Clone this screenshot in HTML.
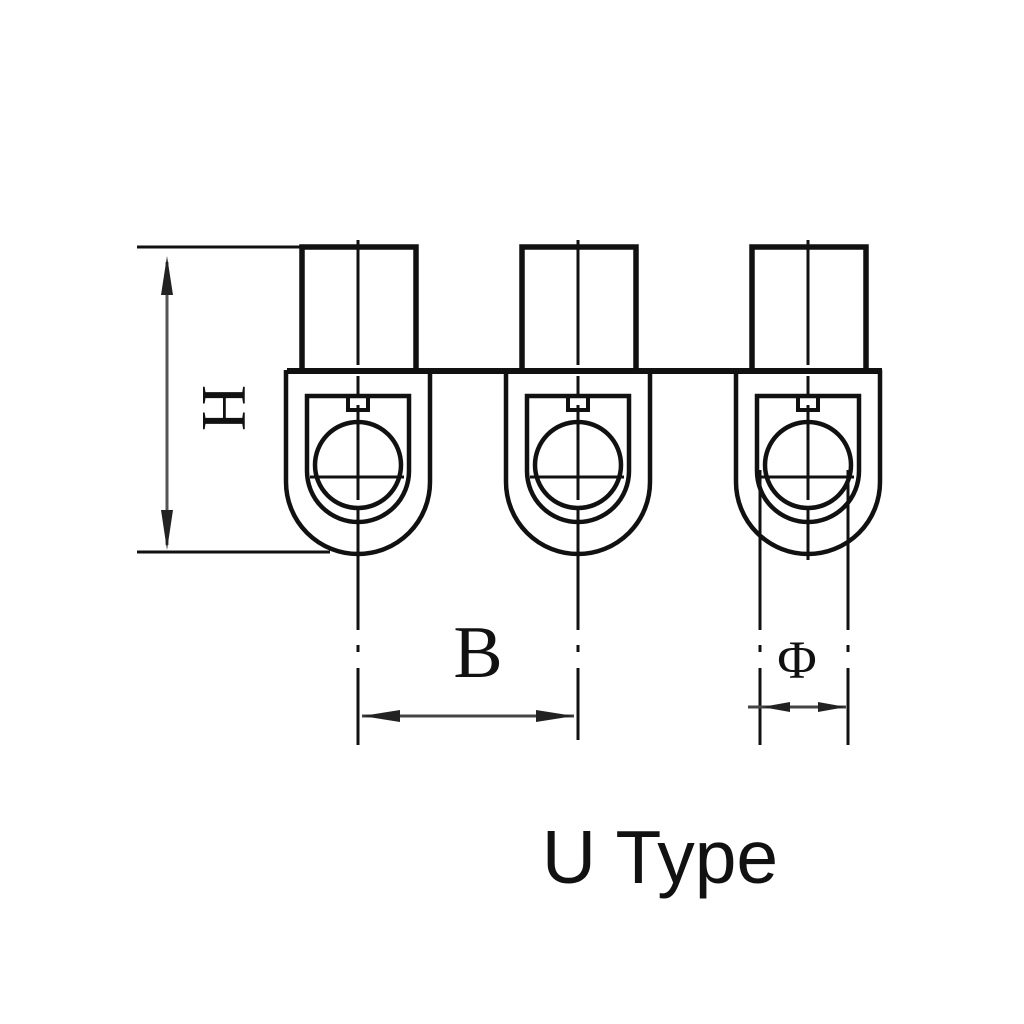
<!DOCTYPE html>
<html><head><meta charset="utf-8"><style>
html,body{margin:0;padding:0;background:#fff;}
svg{display:block;}
</style></head><body>
<svg width="1024" height="1024" viewBox="0 0 1024 1024" xmlns="http://www.w3.org/2000/svg">
<rect width="1024" height="1024" fill="#fff"/>
<defs>
<g id="unit" fill="none" stroke="#111">
  <path d="M-56 370 V247 H58 V370" stroke-width="5.5"/>
  <path d="M-72 370 V482 A72 72 0 0 0 72 482 V370" stroke-width="4.5"/>
  <path d="M-51 396 V471 A51 51 0 0 0 51 471 V396 Z" stroke-width="4.5"/>
  <path d="M-10 396 V410 H10 V396" stroke-width="4"/>
  <circle cx="0" cy="465" r="43" stroke-width="4.5"/>
  <line x1="-48" y1="477" x2="46" y2="477" stroke-width="3"/>
  <path d="M0 240 V365 M0 376 V395 M0 405 V500 M0 510 V560" stroke-width="3"/>
</g>
</defs>
<line x1="287" y1="371" x2="882" y2="371" stroke="#111" stroke-width="6"/>
<use href="#unit" transform="translate(358,0)"/>
<use href="#unit" transform="translate(578,0)"/>
<use href="#unit" transform="translate(808,0)"/>
<line x1="137" y1="247" x2="302" y2="247" stroke="#111" stroke-width="3"/>
<line x1="137" y1="552" x2="330" y2="552" stroke="#111" stroke-width="3"/>
<line x1="167" y1="262" x2="167" y2="545" stroke="#555" stroke-width="3"/>
<path d="M167 256 L161 295 L173 295 Z" fill="#222"/>
<path d="M167 550 L161 510 L173 510 Z" fill="#222"/>
<text x="0" y="0" transform="translate(203,408) rotate(90)" font-family="Liberation Serif, serif" font-size="64" fill="#111" text-anchor="middle">H</text>
<g stroke="#111" stroke-width="3" fill="none">
<path d="M358 560 V630 M358 645 V652 M358 668 V745"/>
<path d="M578 560 V630 M578 645 V652 M578 668 V740"/>
<path d="M760 470 V630 M760 645 V652 M760 668 V745"/>
<path d="M848 470 V630 M848 645 V652 M848 668 V745"/>
</g>
<line x1="362" y1="716" x2="574" y2="716" stroke="#444" stroke-width="3"/>
<path d="M362 716 L400 710 L400 722 Z" fill="#222"/>
<path d="M574 716 L536 710 L536 722 Z" fill="#222"/>
<text x="478" y="677" font-family="Liberation Serif, serif" font-size="74" fill="#111" text-anchor="middle">B</text>
<line x1="748" y1="707" x2="846" y2="707" stroke="#444" stroke-width="3"/>
<path d="M762 707 L790 702 L790 712 Z" fill="#222"/>
<path d="M846 707 L818 702 L818 712 Z" fill="#222"/>
<text x="797" y="678" font-family="Liberation Serif, serif" font-size="54" fill="#111" text-anchor="middle">Φ</text>
<text x="660" y="883" font-family="Liberation Sans, sans-serif" font-size="75" fill="#111" text-anchor="middle">U Type</text>
</svg>
</body></html>
